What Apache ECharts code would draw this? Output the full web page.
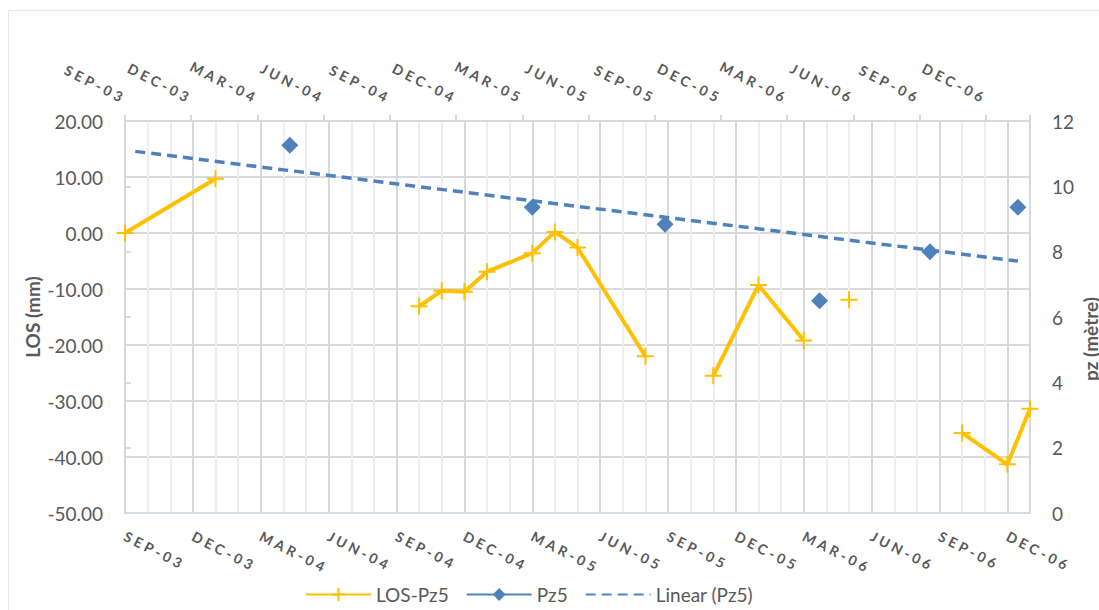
<!DOCTYPE html>
<html>
<head>
<meta charset="utf-8">
<title>LOS-Pz5</title>
<script src="https://cdn.jsdelivr.net/npm/echarts@6/dist/echarts.min.js"></script>
<style>
  html, body { margin: 0; padding: 0; background: #ffffff; }
  #chart { width: 1099px; height: 610px; }
  /* spaced capitals for the date axes */
  #chart text[style*="DejaVu"] { letter-spacing: 3.5px; }
</style>
</head>
<body>
<div id="chart"></div>
<script>
// Quarter labels shown on both date axes (every 3 months from Sep 2003)
const quarterLabels = ['SEP-03', 'DEC-03', 'MAR-04', 'JUN-04', 'SEP-04', 'DEC-04', 'MAR-05',
  'JUN-05', 'SEP-05', 'DEC-05', 'MAR-06', 'JUN-06', 'SEP-06', 'DEC-06'];

// Axis extents (dates)
const axisStart = '2003-09-01';
const primaryEnd = '2007-01-01';
const secondaryEnd = '2007-02-01';

// LOS-Pz5 displacement (mm); null = no measurement (line break)
const losDates = ['2003-09-01', '2004-01-01', '2004-04-01', '2004-10-01', '2004-11-01', '2004-12-01',
  '2005-01-01', '2005-03-01', '2005-04-01', '2005-05-01', '2005-08-01', '2005-09-01', '2005-11-01',
  '2006-01-01', '2006-03-01', '2006-04-01', '2006-05-01', '2006-09-01', '2006-10-01', '2006-12-01',
  '2007-01-01'];
const losValues = [0.0, 9.7, null, -13.1, -10.3, -10.5,
  -6.9, -3.6, 0.2, -2.6, -22.0, null, -25.5,
  -9.3, -19.2, null, -11.9, null, -35.7, -41.3,
  -31.4];

// Pz5 piezometric level (m); null = no reading
const pz5Dates = ['2003-09-15', '2004-04-15', '2004-10-15', '2005-03-15', '2005-06-15', '2005-09-15',
  '2005-12-15', '2006-04-15', '2006-07-15', '2006-09-15', '2006-11-15', '2007-01-15'];
const pz5Values = [null, 11.26, null, 9.36, null, 8.84,
  null, 6.50, null, 8.00, null, 9.36];

// Month offset from the axis origin (fractional within the month)
function monthPos(s) {
  const p = s.split('-').map(Number);
  const o = axisStart.split('-').map(Number);
  const daysInMonth = new Date(Date.UTC(p[0], p[1], 0)).getUTCDate();
  return (p[0] - o[0]) * 12 + (p[1] - o[1]) + (p[2] - 1) / daysInMonth;
}

const losData = losDates.map((d, i) => [monthPos(d), losValues[i]]);
const pz5Data = pz5Dates.map((d, i) => [monthPos(d), pz5Values[i]]);

// Least-squares linear trend of Pz5, drawn across the series' date range
function linearTrend(points, x0, x1) {
  const pts = points.filter(p => p[1] !== null);
  const n = pts.length;
  const mx = pts.reduce((s, p) => s + p[0], 0) / n;
  const my = pts.reduce((s, p) => s + p[1], 0) / n;
  let sxy = 0, sxx = 0;
  pts.forEach(p => { sxy += (p[0] - mx) * (p[1] - my); sxx += (p[0] - mx) * (p[0] - mx); });
  const slope = sxy / sxx;
  const icpt = my - slope * mx;
  return [[x0, icpt + slope * x0], [x1, icpt + slope * x1]];
}
const trendData = linearTrend(pz5Data, pz5Data[0][0], pz5Data[pz5Data.length - 1][0]);

const FONT = 'Lato';
const TEXT = '#595959';
const GRID = '#d9d9d9';
const AXIS_BLUE = '#d5dce6';

function quarterLabel(v) {
  if (v % 3 !== 0) return '';
  return quarterLabels[v / 3] || '';
}

// Date labels slant down to the right on both axes
function dateLabel(rotate) {
  return {
    show: true,
    fontFamily: "Lato, 'DejaVu Sans'",
    fontWeight: 'bold',
    fontSize: 14,
    color: TEXT,
    rotate: rotate,
    margin: 22,
    formatter: quarterLabel
  };
}

const chart = echarts.init(document.getElementById('chart'), null, { renderer: 'svg' });
chart.setOption({
  animation: false,
  backgroundColor: '#ffffff',
  graphic: [{
    type: 'rect',
    shape: { x: 8.5, y: 10.5, width: 1200, height: 700 },
    style: { fill: 'none', stroke: '#e2e8f0', lineWidth: 1 },
    silent: true,
    z: -10
  }],
  grid: {
    left: 125, right: 69, top: 121, bottom: 97,
    containLabel: false,
    outerBoundsMode: 'none'
  },
  legend: {
    left: 300,
    top: 580,
    itemWidth: 65,
    itemHeight: 16,
    itemGap: 17,
    textStyle: { fontFamily: FONT, fontSize: 19, color: TEXT },
    data: [
      'LOS-Pz5',
      'Pz5',
      { name: 'Linear (Pz5)', itemStyle: { color: 'rgba(0,0,0,0)', borderColor: 'rgba(0,0,0,0)', opacity: 0 } }
    ]
  },
  xAxis: [
    { // monthly minor grid
      type: 'value', position: 'bottom', min: 0, max: monthPos(primaryEnd), interval: 1, z: 0,
      axisLine: { show: false }, axisTick: { show: false }, axisLabel: { show: false },
      splitLine: { show: true, lineStyle: { color: '#eeeeee', width: 2 } }
    },
    { // primary date axis
      type: 'value', position: 'bottom', min: 0, max: monthPos(primaryEnd), interval: 3, z: 1,
      axisLine: { show: true, lineStyle: { color: AXIS_BLUE, width: 2 } },
      axisTick: { show: false },
      axisLabel: dateLabel(-27),
      splitLine: { show: true, lineStyle: { color: GRID, width: 2 } }
    },
    { // secondary date axis
      type: 'value', position: 'top', min: 0, max: monthPos(secondaryEnd), interval: 3, z: 1,
      axisLine: { show: true, lineStyle: { color: GRID, width: 2 } },
      axisTick: { show: true, inside: false, length: 6, lineStyle: { color: GRID, width: 2 } },
      axisLabel: dateLabel(27),
      splitLine: { show: false }
    }
  ],
  yAxis: [
    {
      type: 'value', position: 'left', min: -50, max: 20, interval: 10,
      name: 'LOS (mm)', nameLocation: 'middle', nameGap: 83, nameRotate: 90,
      nameMoveOverlap: false,
      nameTextStyle: { fontFamily: FONT, fontWeight: 'bold', fontSize: 19, color: TEXT },
      axisLine: { show: true, lineStyle: { color: GRID, width: 2 } },
      axisTick: { show: false },
      axisLabel: { fontFamily: FONT, fontSize: 19, color: TEXT, margin: 22, formatter: v => v.toFixed(2) },
      splitLine: { show: true, lineStyle: { color: GRID, width: 2 } }
    },
    {
      type: 'value', position: 'right', min: 0, max: 12, interval: 2,
      name: 'pz (mètre)', nameLocation: 'middle', nameGap: 51, nameRotate: 90,
      nameMoveOverlap: false,
      nameTextStyle: { fontFamily: FONT, fontWeight: 'bold', fontSize: 19, color: TEXT, padding: [0, 44, 0, 0] },
      axisLine: { show: true, lineStyle: { color: AXIS_BLUE, width: 2 } },
      axisTick: { show: true, inside: false, length: 6, lineStyle: { color: AXIS_BLUE, width: 2 } },
      axisLabel: { fontFamily: FONT, fontSize: 19, color: TEXT, margin: 22 },
      splitLine: { show: false }
    }
  ],
  series: [
    {
      name: 'LOS-Pz5',
      type: 'line',
      xAxisIndex: 1,
      yAxisIndex: 0,
      data: losData,
      symbol: 'path://M8,0 L8,16 M0,8 L16,8',
      symbolSize: 17,
      showAllSymbol: true,
      connectNulls: false,
      lineStyle: { color: '#FFC000', width: 4 },
      itemStyle: { color: '#FFC000', borderColor: '#FFC000', borderWidth: 2 },
      z: 3
    },
    {
      name: 'Pz5',
      type: 'line',
      xAxisIndex: 2,
      yAxisIndex: 1,
      data: pz5Data,
      symbol: 'diamond',
      symbolSize: 17,
      showAllSymbol: true,
      connectNulls: false,
      lineStyle: { color: '#4F81BD', width: 4 },
      itemStyle: { color: '#4F81BD' },
      z: 4
    },
    {
      name: 'Linear (Pz5)',
      type: 'line',
      xAxisIndex: 2,
      yAxisIndex: 1,
      data: trendData,
      symbol: 'none',
      showSymbol: false,
      lineStyle: { color: '#4F81BD', width: 3.5, type: [10, 6] },
      itemStyle: { color: '#4F81BD' },
      z: 2
    }
  ]
});
</script>
</body>
</html>
